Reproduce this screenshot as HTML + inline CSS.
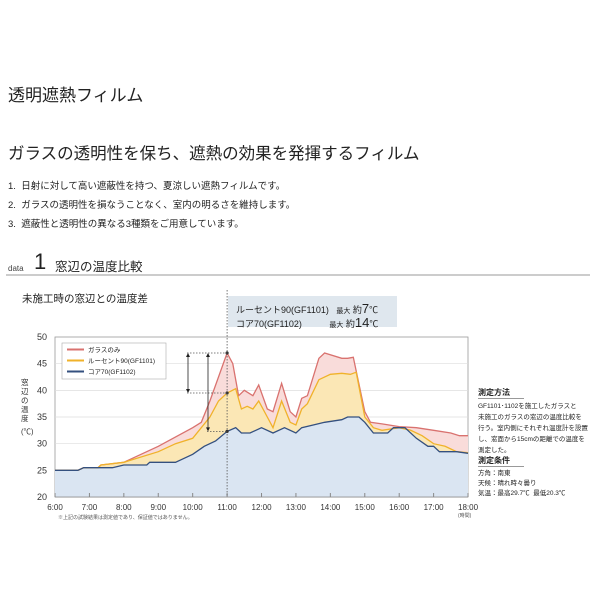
<!DOCTYPE html><html><head><meta charset="utf-8"><style>
body{margin:0;width:600px;height:600px;background:#fff;font-family:"Liberation Sans","Noto Sans CJK JP",sans-serif;color:#222;overflow:hidden;position:relative}
.a{position:absolute;white-space:nowrap}
</style></head><body>
<div class="a" style="left:8px;top:81px;font-size:17px;">透明遮熱フィルム</div>
<div class="a" style="left:8px;top:140px;font-size:16.5px;">ガラスの透明性を保ち、遮熱の効果を発揮するフィルム</div>
<div class="a" style="left:8px;top:178px;font-size:9.5px;">1.&nbsp; 日射に対して高い遮蔽性を持つ、夏涼しい遮熱フィルムです。</div>
<div class="a" style="left:8px;top:197px;font-size:9.5px;">2.&nbsp; ガラスの透明性を損なうことなく、室内の明るさを維持します。</div>
<div class="a" style="left:8px;top:216px;font-size:9.5px;">3.&nbsp; 遮蔽性と透明性の異なる3種類をご用意しています。</div>
<div class="a" style="left:8px;top:264px;font-size:8px;color:#444">data</div>
<div class="a" style="left:34px;top:249px;font-size:22px;font-weight:300">1</div>
<div class="a" style="left:55px;top:256px;font-size:12.5px;">窓辺の温度比較</div>
<div class="a" style="left:6px;top:274px;width:584px;height:2px;background:#ccc"></div>
<div class="a" style="left:22px;top:291px;font-size:10.5px;">未施工時の窓辺との温度差</div>
<svg class="a" style="left:0;top:0" width="600" height="600" id="s">
<rect x="228" y="296" width="169" height="31" fill="#dfe7ee"/>
<g id="g"></g>
</svg>
<div class="a" style="left:236px;top:301px;font-size:9px;">ルーセント90(GF1101)&nbsp;&nbsp; <span style="font-size:7px">最大</span> 約<span style="font-size:13px">7</span>℃</div>
<div class="a" style="left:236px;top:315px;font-size:9px;">コア70(GF1102)&nbsp;&nbsp;&nbsp;&nbsp;&nbsp;&nbsp;&nbsp;&nbsp;&nbsp;&nbsp; <span style="font-size:7px">最大</span> 約<span style="font-size:13px">14</span>℃</div>
<div class="a" style="left:478px;top:387px;font-size:8px;font-weight:bold;border-bottom:1px solid #999;width:46px">測定方法</div>
<div class="a" style="left:478px;top:401px;font-size:6.5px;line-height:11px;">GF1101･1102を施工したガラスと<br>未施工のガラスの窓辺の温度比較を<br>行う。室内側にそれぞれ温度計を設置<br>し、窓面から15cmの距離での温度を<br>測定した。</div>
<div class="a" style="left:478px;top:455px;font-size:8px;font-weight:bold;border-bottom:1px solid #999;width:46px">測定条件</div>
<div class="a" style="left:478px;top:469px;font-size:6.5px;line-height:10px;">方角：南東<br>天候：晴れ時々曇り<br>気温：最高29.7℃&nbsp; 最低20.3℃</div>
<div class="a" style="left:58px;top:514px;font-size:5px;color:#555">※上記の試験結果は測定値であり、保証値ではありません。</div>
<div class="a" style="left:458px;top:512px;font-size:5px;color:#555">(時間)</div>
<script>
const X=t=>55+34.42*(t-6),Y=v=>497-5.333*(v-20);
const h=(a,b)=>a+b/60;
const red=[[6,0,25],[6,40,25],[6,50,25.5],[7,15,25.5],[7,20,26],[8,0,26.5],[9,0,29.5],[10,0,33],[10,15,34],[10,30,38],[11,0,47],[11,10,45],[11,20,39],[11,30,40],[11,45,39],[11,55,41],[12,10,36.5],[12,20,36],[12,35,41.3],[12,50,36],[13,0,35],[13,10,38.5],[13,20,39],[13,40,46],[13,50,47],[14,20,46],[14,30,46],[14,40,46.2],[15,0,36],[15,10,34],[15,30,33.7],[16,0,33.2],[16,30,33],[17,0,32.5],[17,30,32],[17,45,31.5],[18,0,31.5]];
const yel=[[6,0,25],[6,40,25],[6,50,25.5],[7,15,25.5],[7,20,26],[8,0,26.5],[9,0,28.5],[9,30,30],[10,0,31],[10,30,35],[10,45,38],[11,0,39.5],[11,15,40.3],[11,25,36.5],[11,35,37],[11,45,36.5],[11,55,38],[12,10,35],[12,20,33],[12,35,38],[12,50,34],[13,0,33.5],[13,10,36.5],[13,20,37.5],[13,40,42],[14,0,43],[14,20,43.2],[14,35,43],[14,45,43.4],[15,0,35],[15,15,33],[15,30,32.5],[16,0,33],[16,20,32.5],[16,40,31.5],[17,0,30],[17,20,29.5],[17,40,28.5],[18,0,28.3]];
const blu=[[6,0,25],[6,40,25],[6,50,25.5],[7,40,25.5],[8,0,26],[8,40,26],[8,45,26.5],[9,30,26.5],[9,40,27],[10,0,28],[10,20,29.5],[10,40,30.5],[11,0,32.3],[11,15,33],[11,25,32],[11,40,32],[12,0,33],[12,20,32],[12,40,33],[13,0,32],[13,10,33],[13,30,33.5],[13,50,34],[14,20,34.5],[14,30,35],[14,50,35],[15,0,34],[15,15,32],[15,40,32],[15,50,33],[16,10,33],[16,30,31],[16,50,29.5],[17,0,29.5],[17,10,28.5],[17,40,28.5],[18,0,28.2]];
const pts=d=>d.map(p=>X(h(p[0],p[1])).toFixed(1)+','+Y(p[2]).toFixed(1)).join(' ');
let s='<rect x="55" y="337" width="413" height="160" fill="#fff" stroke="#999" stroke-width="0.8"/>';
for(let v=25;v<50;v+=5)s+=`<line x1="55" x2="468" y1="${Y(v)}" y2="${Y(v)}" stroke="#ddd" stroke-width="0.7"/>`;
const area=(d,c)=>`<polygon points="${X(6)},${Y(20)} ${pts(d)} ${X(18)},${Y(20)}" fill="${c}"/>`;
s+=area(red,'#f9dcda')+area(yel,'#fbe7b5')+area(blu,'#dae5f2');
s+=`<polyline points="${pts(red)}" fill="none" stroke="#d9726f" stroke-width="1.3"/>`;
s+=`<polyline points="${pts(yel)}" fill="none" stroke="#f0b22a" stroke-width="1.3"/>`;
s+=`<polyline points="${pts(blu)}" fill="none" stroke="#34507f" stroke-width="1.3"/>`;
s+=`<line x1="55" x2="468" y1="497" y2="497" stroke="#888" stroke-width="0.8"/>`;
for(let t=6;t<=18;t++){const x=X(t);s+=`<line x1="${x}" x2="${x}" y1="493" y2="497" stroke="#888"/><text x="${x}" y="510" font-size="8" text-anchor="middle" fill="#333">${t}:00</text>`;}
for(let v=20;v<=50;v+=5)s+=`<text x="47" y="${Y(v)+3}" font-size="9" text-anchor="end" fill="#333">${v}</text>`;
const x11=X(11);
s+=`<line x1="${x11}" x2="${x11}" y1="290" y2="497" stroke="#555" stroke-width="0.8" stroke-dasharray="1.5,1.5"/>`;
[[47],[39.5],[32.3]].forEach(([v])=>s+=`<circle cx="${x11}" cy="${Y(v)}" r="1.6" fill="#333"/>`);
s+=`<line x1="187" x2="${x11}" y1="${Y(47)}" y2="${Y(47)}" stroke="#555" stroke-width="0.7" stroke-dasharray="1.5,1.5"/>`;
s+=`<line x1="187" x2="${x11}" y1="${Y(39.5)}" y2="${Y(39.5)}" stroke="#555" stroke-width="0.7" stroke-dasharray="1.5,1.5"/>`;
s+=`<line x1="207" x2="${x11}" y1="${Y(32.3)}" y2="${Y(32.3)}" stroke="#555" stroke-width="0.7" stroke-dasharray="1.5,1.5"/>`;
const arr=(x,a,b)=>`<line x1="${x}" x2="${x}" y1="${a+3}" y2="${b-3}" stroke="#222" stroke-width="0.8"/><polygon points="${x},${a} ${x-2},${a+4} ${x+2},${a+4}" fill="#222"/><polygon points="${x},${b} ${x-2},${b-4} ${x+2},${b-4}" fill="#222"/>`;
s+=arr(188,Y(47),Y(39.5))+arr(208,Y(47),Y(32.3));
s+=`<rect x="62" y="343" width="104" height="36" fill="#fff" stroke="#aaa" stroke-width="0.6"/>`;
[['#d9726f','ガラスのみ',352],['#f0b22a','ルーセント90(GF1101)',363],['#34507f','コア70(GF1102)',374]].forEach(([c,t,y])=>s+=`<line x1="67" x2="84" y1="${y-2.5}" y2="${y-2.5}" stroke="${c}" stroke-width="2"/><text x="88" y="${y}" font-size="6.5" fill="#222">${t}</text>`);
s+=`<text font-size="7.5" fill="#333" transform="translate(21,385)"><tspan x="0" y="0">窓</tspan><tspan x="0" y="9">辺</tspan><tspan x="0" y="18">の</tspan><tspan x="0" y="27">温</tspan><tspan x="0" y="36">度</tspan><tspan x="0" y="49">(℃)</tspan></text>`;
document.getElementById('g').innerHTML=s;
</script>
</body></html>
